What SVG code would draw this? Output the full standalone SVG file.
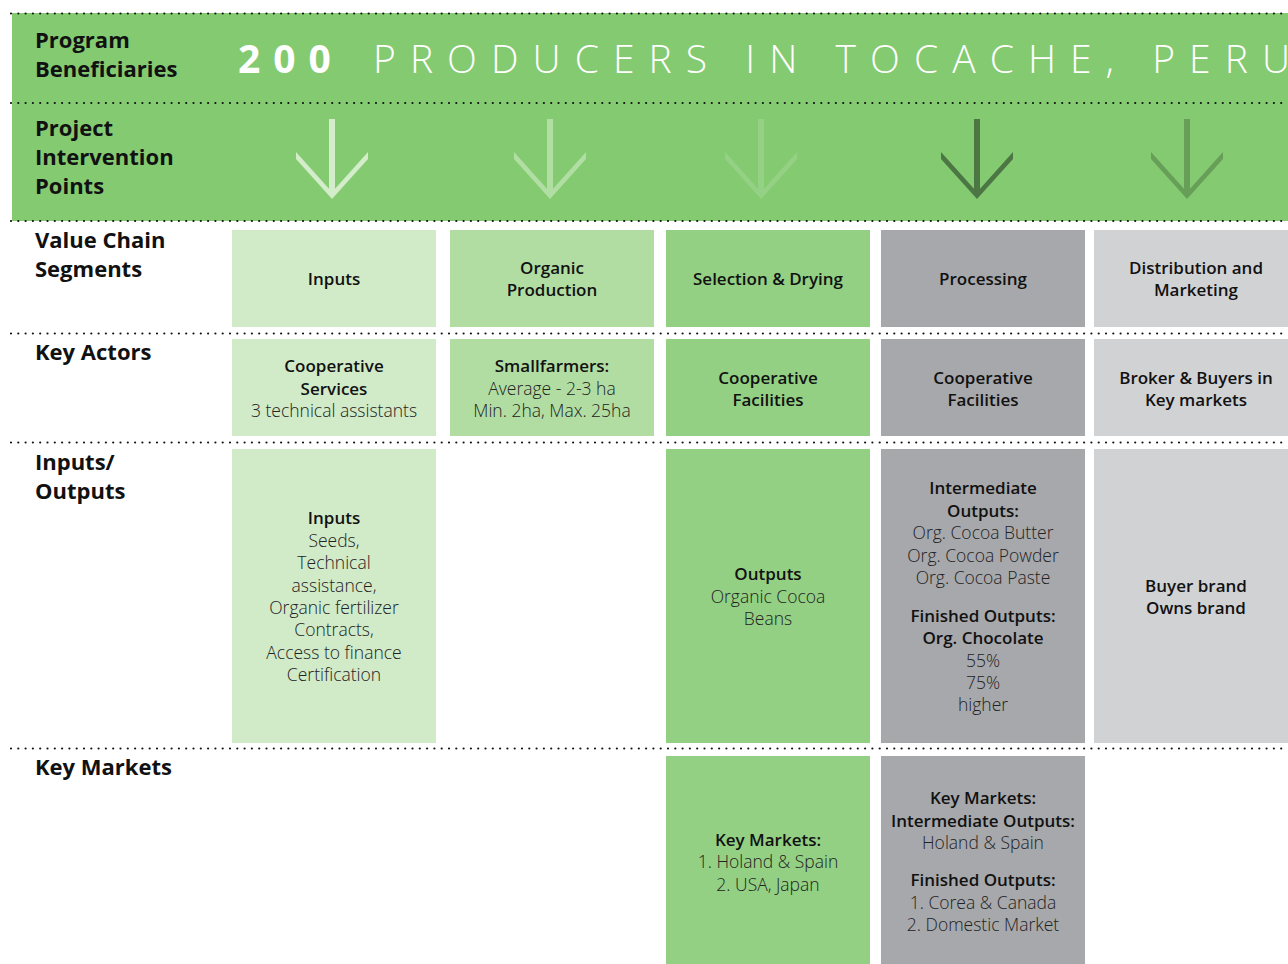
<svg xmlns="http://www.w3.org/2000/svg" xmlns:xlink="http://www.w3.org/1999/xlink" width="1288" height="964" viewBox="0 0 1288 964">
<defs>
<style>
text{font-family:"Open Sans","Noto Sans","Liberation Sans",sans-serif}
.h{font-size:22px;font-weight:700;fill:#111}
.b{font-size:17px;font-weight:650;fill:#111;text-anchor:middle}
.l{font-size:17.5px;font-weight:300;fill:#222;text-anchor:middle}
.dots{stroke:#111;stroke-width:2.2;stroke-linecap:round;stroke-dasharray:0 7.3;fill:none}
.c1{fill:#d1eac8}.c2{fill:#b1dda3}.c3{fill:#93d083}.c4{fill:#a7a8ab}.c5{fill:#d1d2d4}
</style>
<path id="arr" d="M-3,0 H3 V69.7 L36,33 V40 L0,80 L-36,40 V33 L-3,69.7 Z"/>
</defs>
<rect width="1288" height="964" fill="#fff"/>
<rect id="band" x="12" y="13" width="1276" height="208" fill="#84ca71"/>

<g id="separators">
<line class="dots" x1="11" y1="13.5" x2="1288" y2="13.5"/>
<line class="dots" x1="11" y1="103" x2="1288" y2="103"/>
<line class="dots" x1="11" y1="221" x2="1288" y2="221"/>
<line class="dots" x1="11" y1="333.5" x2="1288" y2="333.5"/>
<line class="dots" x1="11" y1="442.5" x2="1288" y2="442.5"/>
<line class="dots" x1="11" y1="748.5" x2="1288" y2="748.5"/>
</g>

<g id="row-headers">
<text class="h" x="35" y="48">Program</text>
<text class="h" x="35" y="77">Beneficiaries</text>
<text class="h" x="35" y="136">Project</text>
<text class="h" x="35" y="165">Intervention</text>
<text class="h" x="35" y="194">Points</text>
<text class="h" x="35" y="248">Value Chain</text>
<text class="h" x="35" y="277">Segments</text>
<text class="h" x="35" y="360">Key Actors</text>
<text class="h" x="35" y="470">Inputs/</text>
<text class="h" x="35" y="499">Outputs</text>
<text class="h" x="35" y="775">Key Markets</text>
</g>

<g id="beneficiaries">
<text x="238" y="73" style="font-size:39px;font-weight:700;fill:#fff;letter-spacing:13px">200</text>
<text x="373" y="73" textLength="917" lengthAdjust="spacing" style="font-size:39px;font-weight:300;fill:#fff">PRODUCERS IN TOCACHE, PERU</text>
</g>

<g id="intervention-arrows">
<use xlink:href="#arr" href="#arr" x="332" y="119" fill="#d3ecc9"/>
<use xlink:href="#arr" href="#arr" x="550" y="119" fill="#b1dea3"/>
<use xlink:href="#arr" href="#arr" x="761" y="119" fill="#95d185"/>
<use xlink:href="#arr" href="#arr" x="977" y="119" fill="#4c7744"/>
<use xlink:href="#arr" href="#arr" x="1187" y="119" fill="#679f58"/>
</g>

<g id="seg-inputs">
<rect class="c1" x="232" y="230" width="204" height="97"/>
<text class="b" x="334" y="285">Inputs</text>
</g>
<g id="seg-organic">
<rect class="c2" x="450" y="230" width="204" height="97"/>
<text class="b" x="552" y="274">Organic</text>
<text class="b" x="552" y="296">Production</text>
</g>
<g id="seg-selection">
<rect class="c3" x="666" y="230" width="204" height="97"/>
<text class="b" x="768" y="285">Selection &amp; Drying</text>
</g>
<g id="seg-processing">
<rect class="c4" x="881" y="230" width="204" height="97"/>
<text class="b" x="983" y="285">Processing</text>
</g>
<g id="seg-distribution">
<rect class="c5" x="1094" y="230" width="204" height="97"/>
<text class="b" x="1196" y="274">Distribution and</text>
<text class="b" x="1196" y="296">Marketing</text>
</g>

<g id="actor-inputs">
<rect class="c1" x="232" y="339" width="204" height="97"/>
<text class="b" x="334" y="372">Cooperative</text>
<text class="b" x="334" y="395">Services</text>
<text class="l" x="334" y="417">3 technical assistants</text>
</g>
<g id="actor-organic">
<rect class="c2" x="450" y="339" width="204" height="97"/>
<text class="b" x="552" y="372">Smallfarmers:</text>
<text class="l" x="552" y="395">Average - 2-3 ha</text>
<text class="l" x="552" y="417">Min. 2ha, Max. 25ha</text>
</g>
<g id="actor-selection">
<rect class="c3" x="666" y="339" width="204" height="97"/>
<text class="b" x="768" y="384">Cooperative</text>
<text class="b" x="768" y="406">Facilities</text>
</g>
<g id="actor-processing">
<rect class="c4" x="881" y="339" width="204" height="97"/>
<text class="b" x="983" y="384">Cooperative</text>
<text class="b" x="983" y="406">Facilities</text>
</g>
<g id="actor-distribution">
<rect class="c5" x="1094" y="339" width="204" height="97"/>
<text class="b" x="1196" y="384">Broker &amp; Buyers in</text>
<text class="b" x="1196" y="406">Key markets</text>
</g>

<g id="io-inputs">
<rect class="c1" x="232" y="449" width="204" height="294"/>
<text class="b" x="334" y="524">Inputs</text>
<text class="l" x="334" y="547">Seeds,</text>
<text class="l" x="334" y="569">Technical</text>
<text class="l" x="334" y="592">assistance,</text>
<text class="l" x="334" y="614">Organic fertilizer</text>
<text class="l" x="334" y="636">Contracts,</text>
<text class="l" x="334" y="659">Access to finance</text>
<text class="l" x="334" y="681">Certification</text>
</g>
<g id="io-selection">
<rect class="c3" x="666" y="449" width="204" height="294"/>
<text class="b" x="768" y="580">Outputs</text>
<text class="l" x="768" y="603">Organic Cocoa</text>
<text class="l" x="768" y="625">Beans</text>
</g>
<g id="io-processing">
<rect class="c4" x="881" y="449" width="204" height="294"/>
<text class="b" x="983" y="494">Intermediate</text>
<text class="b" x="983" y="517">Outputs:</text>
<text class="l" x="983" y="539">Org. Cocoa Butter</text>
<text class="l" x="983" y="562">Org. Cocoa Powder</text>
<text class="l" x="983" y="584">Org. Cocoa Paste</text>
<text class="b" x="983" y="622">Finished Outputs:</text>
<text class="b" x="983" y="644">Org. Chocolate</text>
<text class="l" x="983" y="667">55%</text>
<text class="l" x="983" y="689">75%</text>
<text class="l" x="983" y="711">higher</text>
</g>
<g id="io-distribution">
<rect class="c5" x="1094" y="449" width="204" height="294"/>
<text class="b" x="1196" y="592">Buyer brand</text>
<text class="b" x="1196" y="614">Owns brand</text>
</g>

<g id="market-selection">
<rect class="c3" x="666" y="756" width="204" height="208"/>
<text class="b" x="768" y="846">Key Markets:</text>
<text class="l" x="768" y="868">1. Holand &amp; Spain</text>
<text class="l" x="768" y="891">2. USA, Japan</text>
</g>
<g id="market-processing">
<rect class="c4" x="881" y="756" width="204" height="208"/>
<text class="b" x="983" y="804">Key Markets:</text>
<text class="b" x="983" y="827">Intermediate Outputs:</text>
<text class="l" x="983" y="849">Holand &amp; Spain</text>
<text class="b" x="983" y="886">Finished Outputs:</text>
<text class="l" x="983" y="909">1. Corea &amp; Canada</text>
<text class="l" x="983" y="931">2. Domestic Market</text>
</g>
</svg>
